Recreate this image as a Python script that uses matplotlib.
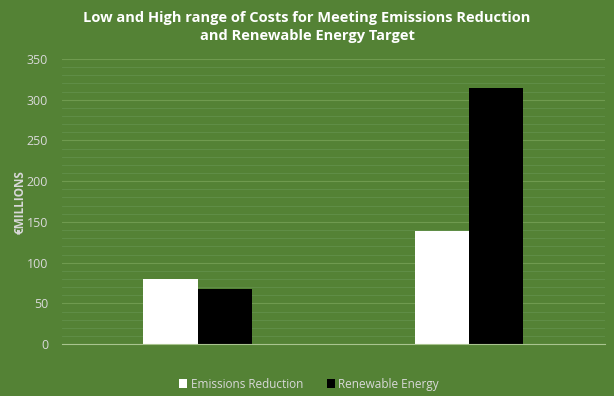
import numpy as np
import matplotlib.pyplot as plt
from matplotlib.ticker import MultipleLocator

# --- DADOS ---
categories = ["Low", "High"]
emissions = [80, 139]
renewable = [68, 315]

BG = "#548235"
TXT = "#d9d9d9"

plt.rcParams['font.family'] = ['Open Sans', 'DejaVu Sans']

fig = plt.figure(figsize=(6.14, 3.96), dpi=100, facecolor=BG)
ax = fig.add_axes([0.101, 0.131, 0.884, 0.72], facecolor=BG)

x = np.arange(len(categories))
w = 0.2
ax.bar(x - w / 2, emissions, w, color="white", label="Emissions Reduction", zorder=3)
ax.bar(x + w / 2, renewable, w, color="black", label="Renewable Energy", zorder=3)

ax.set_xlim(-0.5, 1.5)
ax.set_ylim(0, 350)
ax.yaxis.set_major_locator(MultipleLocator(50))
ax.yaxis.set_minor_locator(MultipleLocator(10))
ax.grid(axis="y", which="major", color="#6f9a4f", lw=0.8, zorder=0)
ax.grid(axis="y", which="minor", color="#62904a", lw=0.6, zorder=0)
ax.set_xticks([])
ax.tick_params(axis="y", which="both", length=0, colors=TXT, labelsize=9, pad=10)
for s in ["top", "right", "left"]:
    ax.spines[s].set_visible(False)
ax.spines["bottom"].set_color("#a9c48f")
ax.spines["bottom"].set_zorder(4)

# rótulo do eixo y
fig.text(20 / 614, 1 - 202 / 396, "€MILLIONS", rotation=90, ha="center", va="center",
         color=TXT, fontsize=8.5, fontweight="bold")

fig.text(0.5, 0.932, "Low and High range of Costs for Meeting Emissions Reduction\nand Renewable Energy Target",
         ha="center", va="center", color="white", fontsize=10.5, fontweight="bold",
         linespacing=1.4)

ax.legend(loc="center", bbox_to_anchor=(0.455, -0.14), ncol=2, frameon=False,
          labelcolor=TXT, fontsize=8.5, handlelength=0.7, handleheight=0.7,
          columnspacing=2.0, handletextpad=0.3)

plt.savefig("out.png", dpi=100, facecolor=BG)
